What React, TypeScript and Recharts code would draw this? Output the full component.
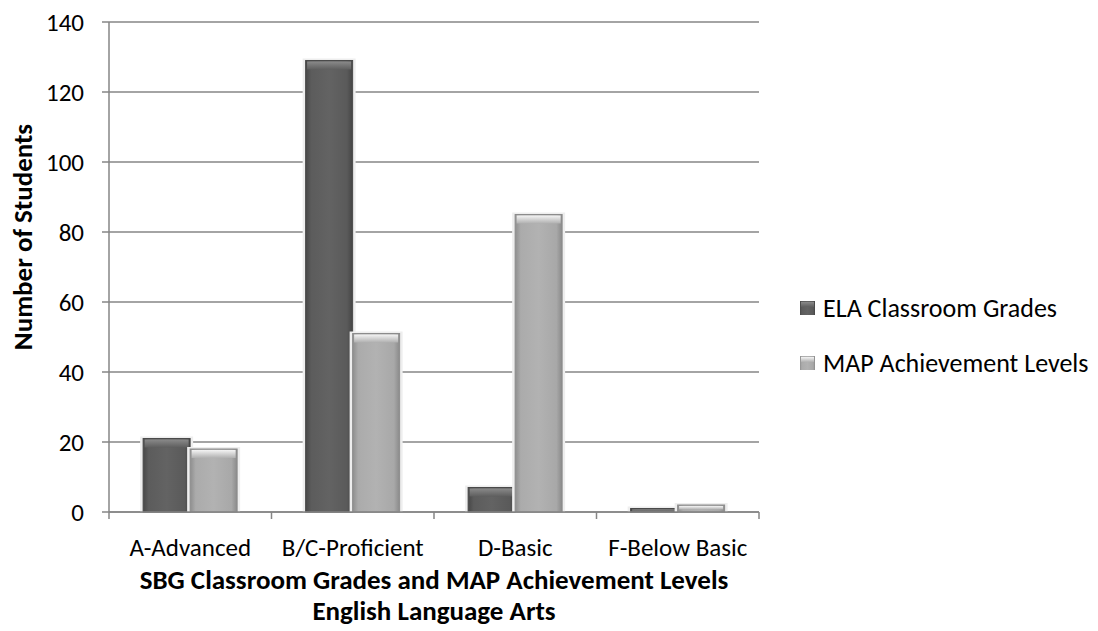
import React from 'react';
import { BarChart, Bar, XAxis, YAxis, CartesianGrid, Legend, Label } from 'recharts';

const categories = ['A-Advanced', 'B/C-Proficient', 'D-Basic', 'F-Below Basic'];
const elaGrades = [21, 129, 7, 1];
const mapLevels = [18, 51, 85, 2];
const yTicks = [0, 20, 40, 60, 80, 100, 120, 140];
const seriesNames = ['ELA Classroom Grades', 'MAP Achievement Levels'];
const xTitleLines = ['SBG Classroom Grades and MAP Achievement Levels', 'English Language Arts'];
const yTitle = 'Number of Students';

const data = categories.map((c, i) => ({ category: c, ela: elaGrades[i], map: mapLevels[i] }));

const W = 1098;
const H = 631;
const PLOT_LEFT = 109;
const PLOT_RIGHT = 759;
const PLOT_TOP = 22;
const PLOT_BOTTOM = 512;
const PLOT_W = PLOT_RIGHT - PLOT_LEFT;
const AXIS = '#868686';
const FONT = 'Carlito, Lato, "Open Sans", sans-serif';
const FS = 25;
const FS_LEGEND = 26;
const FS_TITLE = 27;

const Defs = () => (
  <defs>
    <linearGradient id="elaBody" x1="0" y1="0" x2="1" y2="0">
      <stop offset="0" stopColor="#474747" />
      <stop offset="0.12" stopColor="#5c5c5c" />
      <stop offset="0.5" stopColor="#636363" />
      <stop offset="0.88" stopColor="#5a5a5a" />
      <stop offset="1" stopColor="#444444" />
    </linearGradient>
    <linearGradient id="elaTop" x1="0" y1="0" x2="0" y2="1">
      <stop offset="0" stopColor="#8a8a8a" />
      <stop offset="1" stopColor="#5e5e5e" />
    </linearGradient>
    <linearGradient id="mapBody" x1="0" y1="0" x2="1" y2="0">
      <stop offset="0" stopColor="#8e8e8e" />
      <stop offset="0.12" stopColor="#ababab" />
      <stop offset="0.5" stopColor="#b2b2b2" />
      <stop offset="0.88" stopColor="#a8a8a8" />
      <stop offset="1" stopColor="#8a8a8a" />
    </linearGradient>
    <linearGradient id="mapTop" x1="0" y1="0" x2="0" y2="1">
      <stop offset="0" stopColor="#f4f4f4" />
      <stop offset="1" stopColor="#b0b0b0" />
    </linearGradient>
  </defs>
);

const BevelBar = (props: any) => {
  const { x, y, width, height, kind } = props;
  if (!height || height <= 0) return null;
  const bevel = Math.min(8, height / 2);
  const edge = kind === 'ela' ? '#4a4a4a' : '#8c8c8c';
  return (
    <g>
      <rect x={x - 3} y={y - 2} width={width + 6} height={height + 2} fill="#eeeeee" />
      <rect x={x} y={y} width={width} height={height} fill={`url(#${kind}Body)`} stroke={edge} strokeWidth={1} />
      <rect x={x + 1.5} y={y + 1} width={width - 3} height={bevel} fill={`url(#${kind}Top)`} />
    </g>
  );
};

const XTick = (props: any) => {
  const { x, y, payload, index } = props;
  const band = PLOT_W / categories.length;
  return (
    <g>
      <line x1={x - band / 2} x2={x - band / 2} y1={y} y2={y + 7} stroke={AXIS} strokeWidth={1.5} />
      {index === categories.length - 1 && (
        <line x1={x + band / 2} x2={x + band / 2} y1={y} y2={y + 7} stroke={AXIS} strokeWidth={1.5} />
      )}
      <text x={x} y={y + 44} textAnchor="middle" fontFamily={FONT} fontSize={FS} fill="#000">
        {payload.value}
      </text>
    </g>
  );
};

const XTitle = (props: any) => {
  const { viewBox } = props;
  const cx = viewBox.x + viewBox.width / 2;
  return (
    <g>
      {xTitleLines.map((t, i) => (
        <text key={t} x={cx} y={viewBox.y + 77 + i * 31} textAnchor="middle" fontFamily={FONT} fontSize={FS_TITLE} fontWeight="bold" fill="#000">
          {t}
        </text>
      ))}
    </g>
  );
};

const YTitle = () => {
  const cx = 32;
  const cy = 237;
  return (
    <text x={cx} y={cy} transform={`rotate(-90 ${cx} ${cy})`} textAnchor="middle" fontFamily={FONT} fontSize={FS_TITLE} fontWeight="bold" fill="#000">
      {yTitle}
    </text>
  );
};

const LegendContent = () => {
  const kinds = ['ela', 'map'];
  return (
    <div style={{ fontFamily: FONT, fontSize: FS_LEGEND, color: '#000' }}>
      {seriesNames.map((n, i) => (
        <div key={n} style={{ display: 'flex', alignItems: 'center', height: 55, whiteSpace: 'nowrap' }}>
          <svg width={20} height={16} style={{ marginRight: 5 }}>
            <Defs />
            <rect x={2} y={1} width={15} height={14} fill={`url(#${kinds[i]}Body)`} />
            <rect x={3} y={2} width={13} height={5} fill={`url(#${kinds[i]}Top)`} />
          </svg>
          <span>{n}</span>
        </div>
      ))}
    </div>
  );
};

export default function App() {
  return (
    <div style={{ position: 'absolute', left: 0, top: 0, width: W, height: H, background: '#fff' }}>
      <BarChart
        width={W}
        height={H}
        data={data}
        margin={{ top: PLOT_TOP, right: W - PLOT_RIGHT, left: 0, bottom: 0 }}
        barCategoryGap="21%"
        barGap={0}
      >
        <Defs />
        <CartesianGrid vertical={false} stroke={AXIS} strokeWidth={1.5} />
        <XAxis
          dataKey="category"
          interval={0}
          height={H - PLOT_BOTTOM}
          axisLine={{ stroke: AXIS, strokeWidth: 1.5 }}
          tickLine={false}
          tickSize={0}
          tickMargin={0}
          tick={<XTick />}
        >
          <Label content={<XTitle />} />
        </XAxis>
        <YAxis
          width={PLOT_LEFT}
          domain={[0, 140]}
          ticks={yTicks}
          interval={0}
          axisLine={{ stroke: AXIS, strokeWidth: 1.5 }}
          tickLine={{ stroke: AXIS, strokeWidth: 1.5 }}
          tickSize={7}
          tickMargin={18}
          tick={{ fontFamily: FONT, fontSize: FS, fill: '#000' }}
        >
          <Label content={<YTitle />} />
        </YAxis>
        <Legend
          layout="vertical"
          align="center"
          verticalAlign="middle"
          content={<LegendContent />}
          wrapperStyle={{ left: 798, top: 280, width: 300 }}
        />
        <Bar dataKey="ela" name={seriesNames[0]} isAnimationActive={false} shape={(p: any) => <BevelBar {...p} kind="ela" />} />
        <Bar dataKey="map" name={seriesNames[1]} isAnimationActive={false} shape={(p: any) => <BevelBar {...p} kind="map" />} />
      </BarChart>
    </div>
  );
}
